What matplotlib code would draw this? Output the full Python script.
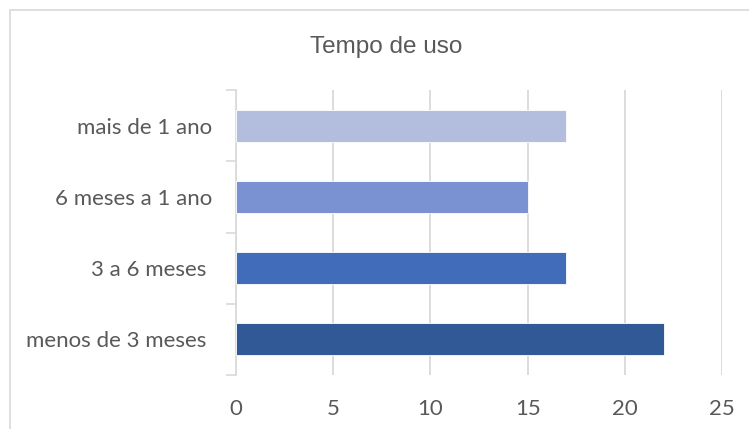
import matplotlib.pyplot as plt
from matplotlib.patches import Rectangle

# Dados do gráfico
categorias = ['menos de 3 meses ', '3 a 6 meses ', '6 meses a 1 ano', 'mais de 1 ano']
valores = [22, 17, 15, 17]
cores = ['#315996', '#416CB9', '#7A92D1', '#B3BEDE']
xticks = [0, 5, 10, 15, 20, 25]

fig = plt.figure(figsize=(7.49, 4.29), dpi=100)

# Moldura do gráfico (cortada à direita e embaixo)
fig.patches.append(Rectangle((10 / 749, -0.1), 1.2, 1 - 10 / 429 + 0.1,
                             transform=fig.transFigure, fill=False,
                             edgecolor='#d9d9d9', linewidth=1.2))

ax = fig.add_axes([236 / 749, 1 - 375 / 429, (722 - 236) / 749, (375 - 90) / 429])

y = range(len(categorias))
ax.barh(y, valores, height=0.45, color=cores, edgecolor='white', linewidth=0.6, zorder=3)

ax.set_xlim(0, 25)
ax.set_ylim(-0.5, len(categorias) - 0.5)
ax.set_xticks(xticks)
ax.set_xticklabels([str(v) for v in xticks])
ax.set_yticks(list(y))
ax.set_yticklabels(categorias)
ax.set_yticks([i - 0.5 for i in range(len(categorias) + 1)], minor=True)

ax.grid(axis='x', color='#d9d9d9', linewidth=1.3, zorder=0)
for s in ['top', 'right', 'bottom']:
    ax.spines[s].set_visible(False)
ax.spines['left'].set_color('#d9d9d9')
ax.spines['left'].set_linewidth(1.2)

ax.tick_params(axis='x', length=0, pad=17, labelsize=16, labelcolor='#595959')
ax.tick_params(axis='y', which='major', length=0, pad=17, labelsize=16, labelcolor='#595959')
ax.tick_params(axis='y', which='minor', length=7, width=1.2, color='#d9d9d9')
for lab in ax.get_xticklabels() + ax.get_yticklabels():
    lab.set_fontfamily('Lato')

fig.text(386 / 749, 1 - 47 / 429, 'Tempo de uso', ha='center', va='center',
         fontsize=17.5, color='#595959', fontfamily='Liberation Sans')

fig.savefig('out.png', dpi=100)
